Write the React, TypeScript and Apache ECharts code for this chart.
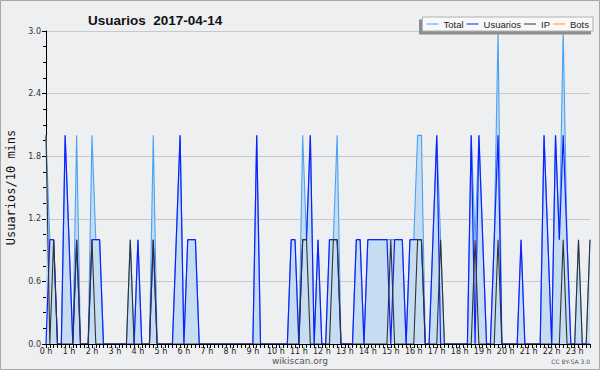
import React, { useEffect, useRef } from 'react';
import * as echarts from 'echarts';

// 10-minute slots, 0:00 .. 23:40
const slots: string[] = [];
for (let i = 0; i < 143; i++) {
  const h = Math.floor(i / 6);
  const m = (i % 6) * 10;
  slots.push(`${h}:${m === 0 ? '00' : m}`);
}

const totalValues = [
  2, 1, 1, 0, 0, 2, 1, 0, 2, 0, 0, 0,
  2, 1, 1, 0, 0, 0, 0, 0, 0, 0, 1, 0,
  1, 0, 0, 0, 2, 0, 0, 0, 0, 0, 1, 2,
  0, 1, 1, 1, 0, 0, 0, 0, 0, 0, 0, 0,
  0, 0, 0, 0, 0, 0, 0, 2, 0, 0, 0, 0,
  0, 0, 0, 0, 1, 1, 0, 2, 1, 2, 0, 1,
  0, 0, 1, 1, 2, 0, 0, 0, 0, 1, 1, 0,
  1, 1, 1, 1, 1, 1, 1, 1, 1, 1, 0, 1,
  1, 2, 2, 0, 0, 1, 2, 1, 0, 0, 0, 0,
  0, 0, 0, 2, 1, 2, 1, 0, 0, 1, 3, 0,
  0, 0, 0, 0, 1, 0, 0, 0, 0, 0, 2, 1,
  0, 2, 1, 3, 1, 0, 0, 1, 0, 0, 1,
];

const userValues = [
  0, 1, 1, 0, 0, 2, 1, 0, 1, 0, 0, 0,
  1, 1, 1, 0, 0, 0, 0, 0, 0, 0, 0, 0,
  1, 0, 0, 0, 1, 0, 0, 0, 0, 0, 1, 2,
  0, 1, 1, 1, 0, 0, 0, 0, 0, 0, 0, 0,
  0, 0, 0, 0, 0, 0, 0, 2, 0, 0, 0, 0,
  0, 0, 0, 0, 1, 1, 0, 1, 1, 2, 0, 1,
  0, 0, 1, 1, 1, 0, 0, 0, 0, 1, 1, 0,
  1, 1, 1, 1, 1, 1, 0, 1, 1, 1, 0, 1,
  1, 1, 1, 0, 0, 1, 2, 0, 0, 0, 0, 0,
  0, 0, 0, 2, 0, 2, 1, 0, 0, 1, 2, 0,
  0, 0, 0, 0, 1, 0, 0, 0, 0, 0, 2, 1,
  0, 2, 1, 2, 1, 0, 0, 0, 0, 0, 0,
];

const ipValues = [
  2, 0, 1, 0, 0, 0, 0, 0, 1, 0, 0, 0,
  1, 0, 0, 0, 0, 0, 0, 0, 0, 0, 1, 0,
  0, 0, 0, 0, 1, 0, 0, 0, 0, 0, 0, 0,
  0, 0, 0, 0, 0, 0, 0, 0, 0, 0, 0, 0,
  0, 0, 0, 0, 0, 0, 0, 0, 0, 0, 0, 0,
  0, 0, 0, 0, 0, 0, 0, 1, 1, 0, 0, 0,
  0, 0, 0, 1, 1, 0, 0, 0, 0, 0, 0, 0,
  0, 0, 0, 0, 0, 0, 1, 0, 0, 0, 0, 0,
  0, 1, 1, 0, 0, 0, 0, 1, 0, 0, 0, 0,
  0, 0, 0, 0, 1, 0, 0, 0, 0, 0, 1, 0,
  0, 0, 0, 0, 0, 0, 0, 0, 0, 0, 0, 0,
  0, 0, 0, 1, 0, 0, 0, 1, 0, 0, 1,
];

const botValues = [
  0, 0, 0, 0, 0, 0, 0, 0, 0, 0, 0, 0,
  0, 0, 0, 0, 0, 0, 0, 0, 0, 0, 0, 0,
  0, 0, 0, 0, 0, 0, 0, 0, 0, 0, 0, 0,
  0, 0, 0, 0, 0, 0, 0, 0, 0, 0, 0, 0,
  0, 0, 0, 0, 0, 0, 0, 0, 0, 0, 0, 0,
  0, 0, 0, 0, 0, 0, 0, 0, 0, 0, 0, 0,
  0, 0, 0, 0, 0, 0, 0, 0, 0, 0, 0, 0,
  0, 0, 0, 0, 0, 0, 0, 0, 0, 0, 0, 0,
  0, 0, 0, 0, 0, 0, 0, 0, 0, 0, 0, 0,
  0, 0, 0, 0, 0, 0, 0, 0, 0, 0, 0, 0,
  0, 0, 0, 0, 0, 0, 0, 0, 0, 0, 0, 0,
  0, 0, 0, 0, 0, 0, 0, 0, 0, 0, 0,
];

const seriesNames = ['Total', 'Usuarios', 'IP', 'Bots'];
const titleText = 'Usuarios  2017-04-14';
const yAxisName = 'Usuarios/10 mins';

export default function App() {
  const ref = useRef<HTMLDivElement>(null);

  useEffect(() => {
    if (!ref.current) return;
    const chart = echarts.init(ref.current, undefined, { renderer: 'svg' });
    const font = 'DejaVu Sans';
    chart.setOption({
      animation: false,
      backgroundColor: '#eeeff1',
      title: {
        text: titleText,
        left: 83,
        top: 8,
        textStyle: { fontFamily: 'Liberation Sans', fontWeight: 'bold', fontSize: 13.5, color: '#111' },
      },
      legend: {
        data: seriesNames,
        right: 7,
        top: 17,
        padding: [2, 4, 2, 4],
        itemGap: 3,
        itemWidth: 12,
        itemHeight: 1,
        icon: 'rect',
        backgroundColor: '#f8f8f8',
        borderColor: '#b0b0b0',
        borderWidth: 1,
        z: 10,
        textStyle: { fontFamily: 'Liberation Sans', fontSize: 9.5, color: '#222' },
      },
      grid: { left: 46, right: 10, top: 31, bottom: 26, outerBoundsMode: 'none', containLabel: false },
      xAxis: {
        type: 'category',
        data: slots,
        boundaryGap: false,
        z: 5,
        axisLine: { show: true, lineStyle: { color: '#000', width: 1 } },
        axisTick: { show: true, interval: 0, length: 4, lineStyle: { color: '#000' } },
        axisLabel: {
          interval: (idx: number) => idx % 6 === 0,
          formatter: (_v: string, idx: number) => `${Math.floor(idx / 6)} h`,
          fontFamily: font,
          fontSize: 8,
          color: '#222',
          margin: 3,
        },
        splitLine: { show: false },
      },
      yAxis: {
        type: 'value',
        min: 0,
        max: 3,
        interval: 0.6,
        name: yAxisName,
        nameLocation: 'middle',
        nameRotate: 90,
        nameGap: 29,
        nameTextStyle: { fontFamily: 'DejaVu Sans Mono', fontSize: 12, color: '#111' },
        axisLine: { show: true, lineStyle: { color: '#000', width: 1 } },
        axisTick: { show: true, length: 4, lineStyle: { color: '#000' } },
        minorTick: { show: true, splitNumber: 4, length: 3, lineStyle: { color: '#000' } },
        axisLabel: {
          formatter: (v: number) => v.toFixed(1),
          fontFamily: font,
          fontSize: 8,
          color: '#333',
          margin: 5,
        },
        splitLine: { show: true, lineStyle: { color: '#c9c9cb', width: 1 } },
      },
      graphic: [
        {
          type: 'rect',
          z: 9,
          shape: { x: 419, y: 19.5, width: 172, height: 15 },
          style: { fill: '#8c8c8c' },
        },
        {
          type: 'text',
          left: 'center',
          top: 356,
          style: { text: 'wikiscan.org', fill: '#555', font: `9px "${font}"` },
        },
        {
          type: 'text',
          right: 10,
          top: 358,
          style: { text: 'CC BY-SA 3.0', fill: '#555', font: `6px "${font}"` },
        },
        {
          type: 'rect',
          z: 20,
          shape: { x: 0.5, y: 0.5, width: 599, height: 369 },
          style: { fill: 'none', stroke: '#a8a8a8', lineWidth: 1 },
        },
      ],
      series: [
        {
          name: 'Total',
          type: 'line',
          data: totalValues,
          symbol: 'none',
          color: '#49a2f2',
          lineStyle: { color: '#49a2f2', width: 1.1 },
          areaStyle: { color: '#c6dcf0', opacity: 1 },
          z: 2,
        },
        {
          name: 'Usuarios',
          type: 'line',
          data: userValues,
          symbol: 'none',
          color: '#1020ff',
          lineStyle: { color: '#1020ff', width: 1.2 },
          z: 3,
        },
        {
          name: 'IP',
          type: 'line',
          data: ipValues,
          symbol: 'none',
          color: '#333333',
          lineStyle: { color: '#333333', width: 1.1 },
          z: 4,
        },
        {
          name: 'Bots',
          type: 'line',
          data: botValues,
          symbol: 'none',
          color: '#ff9900',
          lineStyle: { color: '#ff9900', width: 1 },
          z: 1,
        },
      ],
    });
    return () => chart.dispose();
  }, []);

  return (
    <div
      ref={ref}
      style={{ position: 'fixed', left: 0, top: 0, width: 600, height: 370 }}
    />
  );
}
